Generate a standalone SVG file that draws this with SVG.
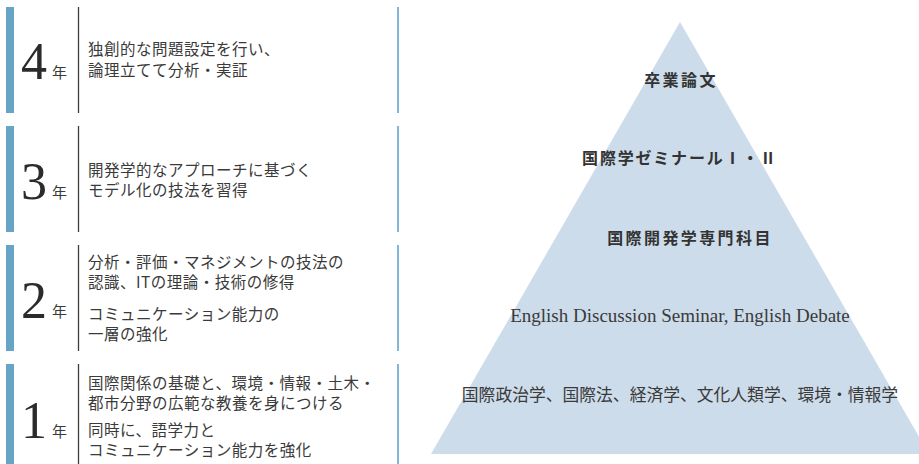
<svg xmlns="http://www.w3.org/2000/svg" width="919" height="464" viewBox="0 0 919 464">
<style>
.bar{fill:#67a4c6}
.sep{stroke:#3d3d3d;stroke-width:1.3}
.edge{fill:#84b6d9}
.num{font-family:"Liberation Serif",serif;font-size:52px;fill:#2b2b2b}
.yr{font-family:"Noto Sans CJK JP",sans-serif;font-size:15px;fill:#3a3a3a}
.t{font-family:"Noto Sans CJK JP",sans-serif;font-size:15.5px;fill:#3a3a3a;letter-spacing:0.5px}
.pb{font-family:"Noto Sans CJK JP",sans-serif;font-size:16px;font-weight:bold;fill:#333;letter-spacing:2.4px;text-anchor:middle}
.pe{font-family:"Liberation Serif",serif;font-size:19px;fill:#3a3a3a;text-anchor:middle}
.pj{font-family:"Noto Sans CJK JP",sans-serif;font-size:16.8px;fill:#3a3a3a;text-anchor:middle}
</style>
<rect width="919" height="464" fill="#ffffff"/>
<g id="pyramid">
<polygon points="680,22 431,454 929,454" fill="#cddcea"/>
<text class="pb" x="681" y="86">卒業論文</text>
<text class="pb" x="680" y="164" style="letter-spacing:1.8px">国際学ゼミナールⅠ・Ⅱ</text>
<text class="pb" x="690" y="244">国際開発学専門科目</text>
<text class="pe" x="680" y="322">English Discussion Seminar, English Debate</text>
<text class="pj" x="680" y="401">国際政治学、国際法、経済学、文化人類学、環境・情報学</text>
</g>
<g id="year4">
<rect class="bar" x="6" y="7" width="8" height="106"/>
<line class="sep" x1="78.5" y1="7" x2="78.5" y2="113"/>
<rect class="edge" x="397" y="7" width="2" height="106"/>
<text class="num" x="21" y="79">4</text>
<text class="yr" x="52" y="78">年</text>
<text class="t" x="88" y="55">独創的な問題設定を行い、</text>
<text class="t" x="88" y="76">論理立てて分析・実証</text>
</g>
<g id="year3">
<rect class="bar" x="6" y="126" width="8" height="106"/>
<line class="sep" x1="78.5" y1="126" x2="78.5" y2="232"/>
<rect class="edge" x="397" y="126" width="2" height="106"/>
<text class="num" x="21" y="199">3</text>
<text class="yr" x="52" y="198">年</text>
<text class="t" x="88" y="176">開発学的なアプローチに基づく</text>
<text class="t" x="88" y="196">モデル化の技法を習得</text>
</g>
<g id="year2">
<rect class="bar" x="6" y="245" width="8" height="106"/>
<line class="sep" x1="78.5" y1="245" x2="78.5" y2="351"/>
<rect class="edge" x="397" y="245" width="2" height="106"/>
<text class="num" x="21" y="318">2</text>
<text class="yr" x="52" y="317">年</text>
<text class="t" x="88" y="268">分析・評価・マネジメントの技法の</text>
<text class="t" x="88" y="288">認識、ITの理論・技術の修得</text>
<text class="t" x="88" y="320">コミュニケーション能力の</text>
<text class="t" x="88" y="340">一層の強化</text>
</g>
<g id="year1">
<rect class="bar" x="6" y="364" width="8" height="100"/>
<line class="sep" x1="78.5" y1="364" x2="78.5" y2="464"/>
<rect class="edge" x="397" y="364" width="2" height="100"/>
<text class="num" x="21" y="438">1</text>
<text class="yr" x="52" y="437">年</text>
<text class="t" x="88" y="389">国際関係の基礎と、環境・情報・土木・</text>
<text class="t" x="88" y="409">都市分野の広範な教養を身につける</text>
<text class="t" x="88" y="436">同時に、語学力と</text>
<text class="t" x="88" y="456">コミュニケーション能力を強化</text>
</g>
<g id="connectors"></g>
</svg>
